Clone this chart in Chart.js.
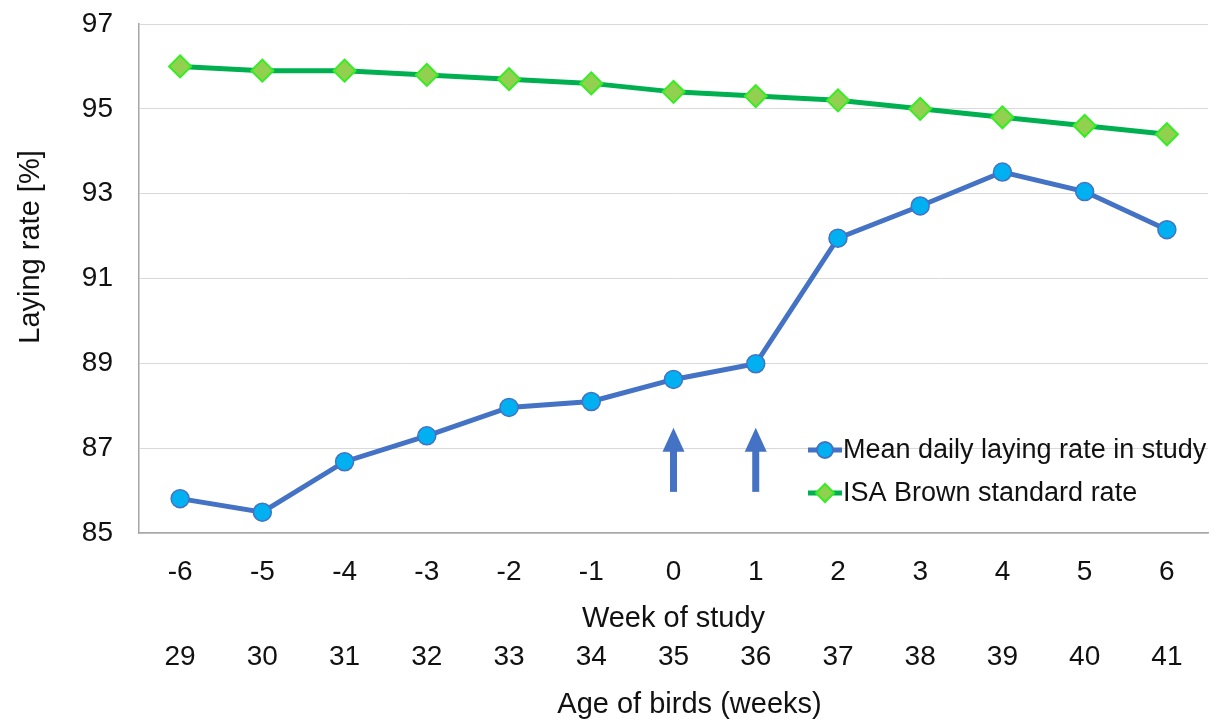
<!DOCTYPE html>
<html>
<head>
<meta charset="utf-8">
<script src="https://cdn.jsdelivr.net/npm/chart.js@4"></script>
<style>
  html, body { margin: 0; padding: 0; background: #fff; }
  #wrap { width: 1223px; height: 721px; }
</style>
</head>
<body>
<div id="wrap"><canvas id="layingChart" width="1223" height="721"></canvas></div>
<script>
// week of study (x categories) and age of the birds shown under them
const weeks = ['-6', '-5', '-4', '-3', '-2', '-1', '0', '1', '2', '3', '4', '5', '6'];
const ages = ['29', '30', '31', '32', '33', '34', '35', '36', '37', '38', '39', '40', '41'];

// laying rate [%]
const studyRate = [85.81, 85.49, 86.68, 87.29, 87.96, 88.1, 88.62, 88.99, 91.95, 92.71, 93.51, 93.05, 92.15];
const isaStandard = [96.0, 95.9, 95.9, 95.8, 95.7, 95.6, 95.4, 95.3, 95.2, 95.0, 94.8, 94.6, 94.4];

// arrows marking the study weeks of interest
const arrowWeeks = ['0', '1'];
const arrowFrom = 85.97;
const arrowTo = 87.48;

const yMin = 85, yMax = 97, yStep = 2;

const FONT = '"Liberation Sans", Arial, sans-serif';
const TXT = '#111';
const BLUE = '#4472C4';
const GREEN = '#00B050';

// arrows, legend, y title and second row of x labels
const extras = {
  id: 'extras',
  afterDatasetsDraw(chart) {
    const { ctx, chartArea, scales: { x, y } } = chart;
    ctx.save();

    // arrows
    ctx.fillStyle = BLUE;
    arrowWeeks.forEach(w => {
      const px = x.getPixelForValue(weeks.indexOf(w));
      const yb = y.getPixelForValue(arrowFrom);
      const yt = y.getPixelForValue(arrowTo);
      const headH = 24, headW = 11, shaft = 3.5;
      ctx.fillRect(px - shaft, yt + headH - 1, shaft * 2, yb - yt - headH + 1);
      ctx.beginPath();
      ctx.moveTo(px, yt);
      ctx.lineTo(px + headW, yt + headH);
      ctx.lineTo(px - headW, yt + headH);
      ctx.closePath();
      ctx.fill();
    });

    // legend
    const lx = chartArea.right - 400;
    chart.data.datasets.forEach((ds, i) => {
      const ly = chartArea.bottom - 83 + i * 43;
      ctx.strokeStyle = ds.borderColor;
      ctx.lineWidth = ds.borderWidth;
      ctx.beginPath();
      ctx.moveTo(lx, ly);
      ctx.lineTo(lx + 34, ly);
      ctx.stroke();
      ctx.fillStyle = ds.pointBackgroundColor;
      ctx.strokeStyle = ds.pointBorderColor;
      ctx.lineWidth = 2;
      ctx.beginPath();
      if (ds.pointStyle === 'rectRot') {
        const r = 9;
        ctx.moveTo(lx + 17, ly - r);
        ctx.lineTo(lx + 17 + r, ly);
        ctx.lineTo(lx + 17, ly + r);
        ctx.lineTo(lx + 17 - r, ly);
        ctx.closePath();
      } else {
        ctx.arc(lx + 17, ly, 8, 0, Math.PI * 2);
      }
      ctx.fill();
      ctx.stroke();
      ctx.fillStyle = TXT;
      ctx.font = '27px ' + FONT;
      ctx.textAlign = 'left';
      ctx.textBaseline = 'middle';
      ctx.fillText(ds.label, lx + 35, ly + 1);
    });

    // y axis title
    ctx.fillStyle = TXT;
    ctx.font = '29px ' + FONT;
    ctx.textAlign = 'center';
    ctx.textBaseline = 'middle';
    ctx.save();
    ctx.translate(31, 247);
    ctx.rotate(-Math.PI / 2);
    ctx.fillText('Laying rate [%]', 0, 0);
    ctx.restore();

    // ages row and its title
    ctx.font = '28px ' + FONT;
    ages.forEach((a, i) => {
      ctx.fillText(a, x.getPixelForValue(i), chartArea.bottom + 124);
    });
    ctx.font = '29px ' + FONT;
    ctx.fillText('Age of birds (weeks)', (chartArea.left + chartArea.right) / 2 + 16, chartArea.bottom + 172);

    ctx.restore();
  }
};

new Chart(document.getElementById('layingChart'), {
  type: 'line',
  data: {
    labels: weeks,
    datasets: [
      {
        label: 'Mean daily laying rate in study',
        data: studyRate,
        borderColor: BLUE,
        borderWidth: 5,
        pointStyle: 'circle',
        pointRadius: 9,
        pointBackgroundColor: '#00B0F0',
        pointBorderColor: BLUE,
        pointBorderWidth: 1.5,
        tension: 0
      },
      {
        label: 'ISA Brown standard rate',
        data: isaStandard,
        borderColor: GREEN,
        borderWidth: 5,
        pointStyle: 'rectRot',
        pointRadius: 11,
        pointBackgroundColor: '#92D050',
        pointBorderColor: '#33EE22',
        pointBorderWidth: 2,
        tension: 0
      }
    ]
  },
  options: {
    responsive: false,
    animation: false,
    events: [],
    layout: { padding: { top: 24, right: 15, left: 0, bottom: 0 } },
    plugins: {
      legend: { display: false },
      tooltip: { enabled: false }
    },
    scales: {
      x: {
        offset: true,
        grid: { display: false, drawTicks: false },
        border: { display: true, color: '#a6a6a6', width: 1.5 },
        ticks: { color: TXT, font: { family: FONT, size: 28 }, padding: 22 },
        title: {
          display: true,
          text: 'Week of study',
          color: TXT,
          font: { family: FONT, size: 29 },
          padding: { top: 0, bottom: 85 }
        },
        afterFit(scale) { scale.height = 188; }
      },
      y: {
        min: yMin,
        max: yMax,
        ticks: { stepSize: yStep, color: TXT, font: { family: FONT, size: 28 }, padding: 26 },
        grid: { color: '#d9d9d9', lineWidth: 1, drawTicks: false },
        border: { display: true, color: '#a6a6a6', width: 1.5 },
        title: { display: false },
        afterFit(scale) {
          scale.width = 139;
          scale.paddingTop = 0;
          scale.paddingBottom = 0;
        }
      }
    }
  },
  plugins: [extras]
});
</script>
</body>
</html>
